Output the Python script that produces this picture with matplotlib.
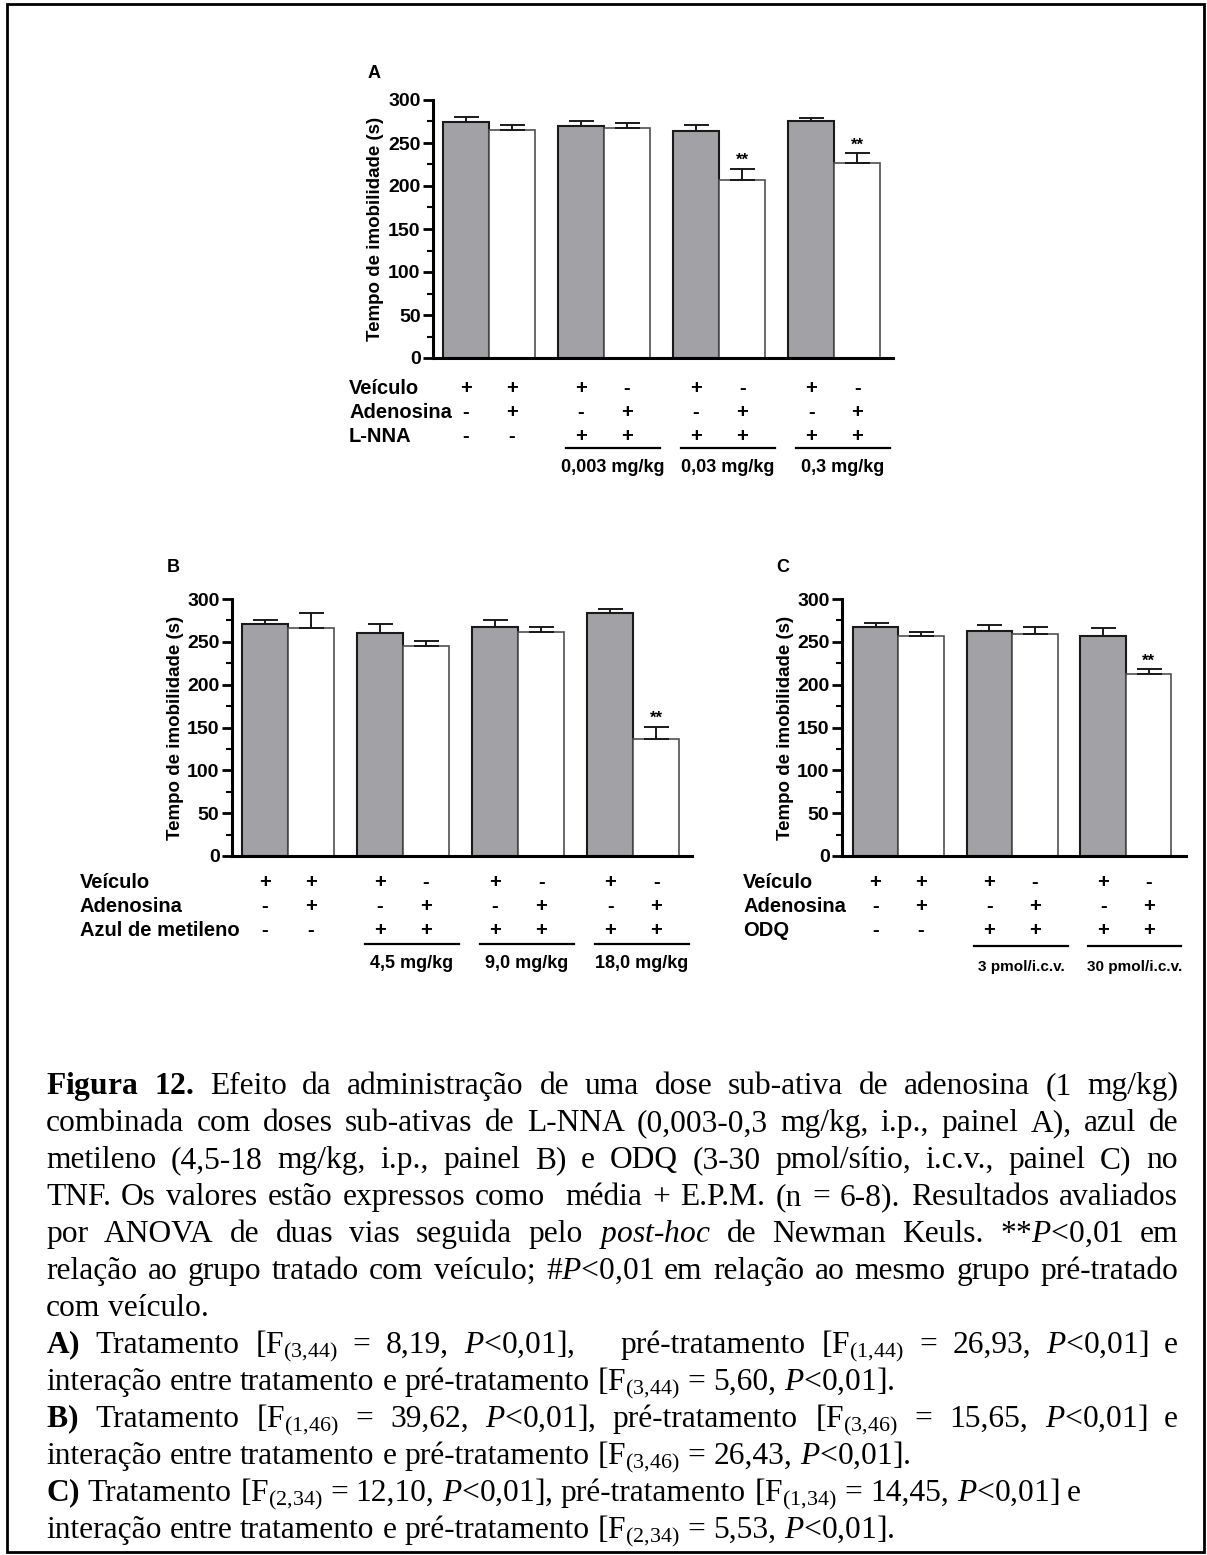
import matplotlib
matplotlib.use("Agg")
import matplotlib.pyplot as plt
from matplotlib.patches import Rectangle
from matplotlib.transforms import blended_transform_factory

W, H = 1207, 1555
SANS = "Liberation Sans"
SERIF = "Liberation Serif"

plt.rcParams["mathtext.fontset"] = "custom"
plt.rcParams["mathtext.rm"] = SERIF
plt.rcParams["mathtext.it"] = SERIF + ":italic"
plt.rcParams["mathtext.bf"] = SERIF + ":bold"
plt.rcParams["mathtext.default"] = "rm"

# ---- data (tempo de imobilidade, s; mean and SEM) ----
# panel A: L-NNA
a_veh_mean = [274, 270, 264, 275]
a_veh_sem = [6, 5, 6.5, 4.5]
a_ado_mean = [265, 267, 207, 227]
a_ado_sem = [6.5, 6, 13, 11]
a_stars = ["", "", "**", "**"]
a_doses = ["0,003 mg/kg", "0,03 mg/kg", "0,3 mg/kg"]

# panel B: azul de metileno
b_veh_mean = [271, 260, 267, 284]
b_veh_sem = [5, 11, 8, 4.5]
b_ado_mean = [266, 245, 261, 137]
b_ado_sem = [18, 5.5, 6, 14]
b_stars = ["", "", "", "**"]
b_doses = ["4,5 mg/kg", "9,0 mg/kg", "18,0 mg/kg"]

# panel C: ODQ
c_veh_mean = [267, 263, 257]
c_veh_sem = [4.5, 7, 9]
c_ado_mean = [257, 259, 213]
c_ado_sem = [4.5, 8.5, 5]
c_stars = ["", "", "**"]
c_doses = ["3 pmol/i.c.v.", "30 pmol/i.c.v."]

veiculo_signs = ["+", "+", "+", "-", "+", "-", "+", "-"]
adenosina_signs = ["-", "+", "-", "+", "-", "+", "-", "+"]
droga_signs = ["-", "-", "+", "+", "+", "+", "+", "+"]

caption_lines = [
    (r"$\mathbf{Figura}$ $\mathbf{12.}$ Efeito da administração de uma dose sub-ativa de adenosina (1 mg/kg)", True),
    ("combinada com doses sub-ativas de L-NNA (0,003-0,3 mg/kg, i.p., painel A), azul de", True),
    ("metileno (4,5-18 mg/kg, i.p., painel B) e ODQ (3-30 pmol/sítio, i.c.v., painel C) no", True),
    ("TNF. Os valores estão expressos como  média + E.P.M. (n = 6-8). Resultados avaliados", True),
    (r"por ANOVA de duas vias seguida pelo $\mathit{post}$-$\mathit{hoc}$ de Newman Keuls. **$\mathit{P}$<0,01 em", True),
    (r"relação ao grupo tratado com veículo; #$\mathit{P}$<0,01 em relação ao mesmo grupo pré-tratado", True),
    ("com veículo.", False),
    (r"$\mathbf{A)}$ Tratamento [F$_{(3{,}44)}$ = 8,19, $\mathit{P}$<0,01],   pré-tratamento [F$_{(1{,}44)}$ = 26,93, $\mathit{P}$<0,01] e", True),
    (r"interação entre tratamento e pré-tratamento [F$_{(3{,}44)}$ = 5,60, $\mathit{P}$<0,01].", False),
    (r"$\mathbf{B)}$ Tratamento [F$_{(1{,}46)}$ = 39,62, $\mathit{P}$<0,01], pré-tratamento [F$_{(3{,}46)}$ = 15,65, $\mathit{P}$<0,01] e", True),
    (r"interação entre tratamento e pré-tratamento [F$_{(3{,}46)}$ = 26,43, $\mathit{P}$<0,01].", False),
    (r"$\mathbf{C)}$ Tratamento [F$_{(2{,}34)}$ = 12,10, $\mathit{P}$<0,01], pré-tratamento [F$_{(1{,}34)}$ = 14,45, $\mathit{P}$<0,01] e", False),
    (r"interação entre tratamento e pré-tratamento [F$_{(2{,}34)}$ = 5,53, $\mathit{P}$<0,01].", False),
]

fig = plt.figure(figsize=(W / 100, H / 100), dpi=100)


def fx(px):
    return px / W


def fy(py):
    return 1 - py / H


def draw_panel(box, letter, letter_xy, ylabel_x, veh, veh_err, ado, ado_err, stars,
               drug, doses, label_x, rows_y, line_y, dose_y, dose_fs, xlim):
    x0, y0, x1, y1 = box
    ax = fig.add_axes([fx(x0), fy(y1), (x1 - x0) / W, (y1 - y0) / H])
    n = len(veh)
    gray_x = [2.5 * g for g in range(n)]
    white_x = [2.5 * g + 1 for g in range(n)]

    ax.bar(gray_x, veh, width=1, color="#a2a2a6", edgecolor="#1a1a1a", linewidth=1.5, zorder=2)
    ax.bar(white_x, ado, width=1, color="white", edgecolor="#505050", linewidth=1.2, zorder=2)
    ax.errorbar(gray_x, veh, yerr=[[0] * n, veh_err], fmt="none", ecolor="#1a1a1a",
                elinewidth=1.4, capsize=9, capthick=1.4, zorder=3)
    ax.errorbar(white_x, ado, yerr=[[0] * n, ado_err], fmt="none", ecolor="#1a1a1a",
                elinewidth=1.4, capsize=9, capthick=1.4, zorder=3)
    for x, m, e, s in zip(white_x, ado, ado_err, stars):
        if s:
            ax.text(x, m + e + 1, s, ha="center", va="bottom", fontsize=12,
                    family=SANS, fontweight="bold")

    ax.set_xlim(*xlim)
    ax.set_ylim(0, 300)
    ax.set_xticks([])
    ax.set_yticks(range(0, 301, 50))
    ax.set_yticks(range(25, 300, 50), minor=True)
    ax.tick_params(axis="y", which="major", direction="out", length=7, width=2, pad=2,
                   labelsize=14)
    ax.tick_params(axis="y", which="minor", direction="out", length=4, width=1.5)
    for lab in ax.get_yticklabels():
        lab.set_fontweight("bold")
        lab.set_family(SANS)
    for side in ("top", "right"):
        ax.spines[side].set_visible(False)
    for side in ("left", "bottom"):
        ax.spines[side].set_linewidth(2.2)
    ax.patch.set_alpha(0)

    fig.text(fx(ylabel_x), fy((y0 + y1) / 2), "Tempo de imobilidade (s)", rotation=90,
             ha="center", va="center", fontsize=13.5, family=SANS, fontweight="bold")
    fig.text(fx(letter_xy[0]), fy(letter_xy[1]), letter, ha="center", va="center",
             fontsize=13, family=SANS, fontweight="bold")

    # treatment table under the bars
    tr = blended_transform_factory(ax.transData, fig.transFigure)
    cols = []
    for g in range(n):
        cols += [gray_x[g], white_x[g]]
    names = ["Veículo", "Adenosina", drug]
    signs = [veiculo_signs, adenosina_signs, droga_signs]
    for name, row, yy in zip(names, signs, rows_y):
        fig.text(fx(label_x), fy(yy), name, ha="left", va="center", fontsize=14.5,
                 family=SANS, fontweight="bold")
        for x, s in zip(cols, row[:2 * n]):
            ax.text(x, fy(yy), s, transform=tr, ha="center", va="center", fontsize=14.5,
                    family=SANS, fontweight="bold")
    for g, dose in enumerate(doses, start=1):
        xa, xb = gray_x[g] - 0.33, white_x[g] + 0.72
        ax.plot([xa, xb], [fy(line_y)] * 2, transform=tr, color="black", lw=1.6,
                clip_on=False)
        ax.text((xa + xb) / 2, fy(dose_y), dose, transform=tr, ha="center", va="center",
                fontsize=dose_fs, family=SANS, fontweight="bold")
    return ax


draw_panel((433, 100, 893, 358), "A", (374, 73), 376,
           a_veh_mean, a_veh_sem, a_ado_mean, a_ado_sem, a_stars, "L-NNA", a_doses,
           349, (388, 412, 436), 448, 467, 13, (-0.717, 9.28))
draw_panel((232, 599, 692, 856), "B", (173, 567), 175,
           b_veh_mean, b_veh_sem, b_ado_mean, b_ado_sem, b_stars, "Azul de metileno", b_doses,
           80, (883, 907, 931), 944, 963, 13, (-0.717, 9.28))
draw_panel((842, 599, 1186, 856), "C", (783, 567), 785,
           c_veh_mean, c_veh_sem, c_ado_mean, c_ado_sem, c_stars, "ODQ", c_doses,
           743, (883, 907, 931), 946, 967, 11, (-0.736, 6.82))

# ---- caption (justified) ----
renderer = fig.canvas.get_renderer()
left, right = 46, 1178
cap_fs = 22.7
for i, (line, justify) in enumerate(caption_lines):
    yb = 1094 + 37 * i
    words = line.split(" ")
    texts = [fig.text(0, fy(yb), w, ha="left", va="baseline", fontsize=cap_fs, family=SERIF)
             for w in words]
    widths = [t.get_window_extent(renderer).width for t in texts]
    gap = cap_fs * 100 / 72 * 0.25
    if justify and len(words) > 1:
        gap = max((right - left - sum(widths)) / (len(words) - 1), 2.0)
    x = left
    for t, w in zip(texts, widths):
        t.set_x(fx(x))
        x += w + gap

fig.add_artist(Rectangle((fx(7), fy(1552)), (1204 - 7) / W, (1552 - 4) / H,
                         transform=fig.transFigure, fill=False, lw=2, ec="black"))

fig.savefig("out.png", dpi=100)
